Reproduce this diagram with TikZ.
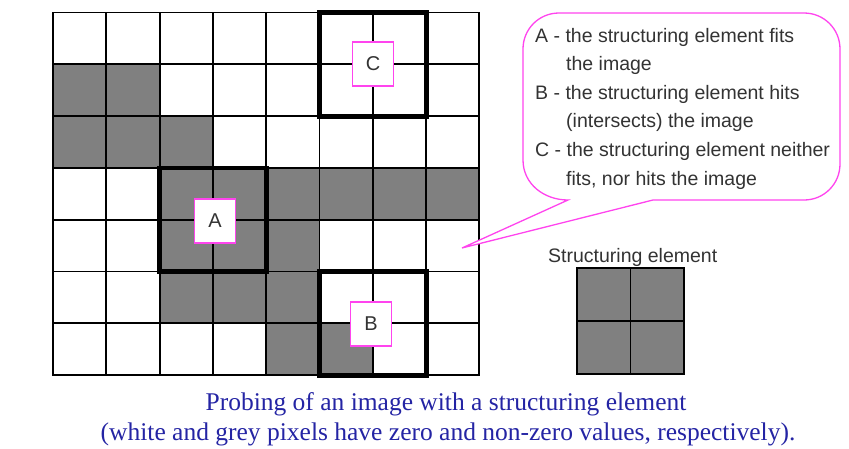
\documentclass[tikz,border=0pt]{standalone}
\usepackage{fontspec}
\setmainfont{Liberation Serif}
\setsansfont{Liberation Sans}
\definecolor{cellgrey}{HTML}{808080}
\definecolor{pinkline}{HTML}{FF44EE}
\definecolor{labeltext}{HTML}{333333}
\definecolor{captionblue}{HTML}{2424A4}
\begin{document}
\begin{tikzpicture}[x=1pt,y=-1pt,
  cell/.style={fill=cellgrey},
  gridline/.style={line width=1.9pt, line cap=rect},
  probe/.style={line width=4.8pt, line join=miter},
  tag/.style={draw=pinkline, line width=1.2pt, fill=white, minimum width=41pt,
    minimum height=44pt, inner sep=0pt, text=labeltext,
    font=\sffamily\fontsize{20}{20}\selectfont},
  callout/.style={draw=pinkline, line width=1.3pt, fill=white},
  calltext/.style={anchor=base west, inner sep=0pt, text=labeltext,
    font=\sffamily\fontsize{19.5}{22}\selectfont},
  caption/.style={inner sep=0pt, anchor=base, text=captionblue,
    font=\fontsize{25.5}{30}\selectfont}]
\useasboundingbox (0,0) rectangle (849,448);
\def\cw{53.3}\def\ch{51.8}\def\gx{53}\def\gy{12.5}
% grey pixels
\foreach \r/\c in {1/0,1/1,2/0,2/1,2/2,3/2,3/3,3/4,3/5,3/6,3/7,4/2,4/3,4/4,5/2,5/3,5/4,6/4,6/5}
  \fill[cell] ({\gx+\c*\cw},{\gy+\r*\ch}) rectangle ++(\cw,\ch);
% grid
\foreach \i in {0,...,8}
  \draw[gridline] ({\gx+\i*\cw},\gy) -- ++(0,{7*\ch});
\foreach \j in {0,...,7}
  \draw[gridline] (\gx,{\gy+\j*\ch}) -- ++({8*\cw},0);
% probes
\draw[probe] ({\gx+5*\cw},\gy) rectangle ++({2*\cw},{2*\ch});
\draw[probe] ({\gx+2*\cw},{\gy+3*\ch}) rectangle ++({2*\cw},{2*\ch});
\draw[probe] ({\gx+5*\cw},{\gy+5*\ch}) rectangle ++({2*\cw},{2*\ch});
% labels
\node[tag] (C) at (373,64) {C};
\node[tag] (A) at (215,221) {A};
\node[tag] (B) at (371,324) {B};
% callout
\coordinate (tip) at (462,248);
\draw[callout] (tip) -- (653,200) -- (804,200)
  .. controls (824,200) and (840,184) .. (840,164) -- (840,49)
  .. controls (840,29) and (824,13) .. (804,13) -- (559,13)
  .. controls (539,13) and (523,29) .. (523,49) -- (523,160)
  .. controls (523,184) and (544,200) .. (568,200) -- cycle;
\node[calltext] (t1) at (535,42) {A - the structuring element fits};
\node[calltext] (t2) at (566,70.6) {the image};
\node[calltext] (t3) at (535,99.2) {B - the structuring element hits};
\node[calltext] (t4) at (566,127.8) {(intersects) the image};
\node[calltext] (t5) at (535,156.4) {C - the structuring element neither};
\node[calltext] (t6) at (566,185) {fits, nor hits the image};
% structuring element
\node[calltext] (selabel) at (548,262) {Structuring element};
\fill[cell] (577,268) rectangle (684,374);
\draw[gridline] (577,268) rectangle (684,374);
\draw[gridline] (630.5,268) -- (630.5,374);
\draw[gridline] (577,321) -- (684,321);
% caption
\node[caption] (cap1) at (446,410) {Probing of an image with a structuring element};
\node[caption] (cap2) at (448,440) {(white and grey pixels have zero and non-zero values, respectively).};
\end{tikzpicture}
\end{document}
